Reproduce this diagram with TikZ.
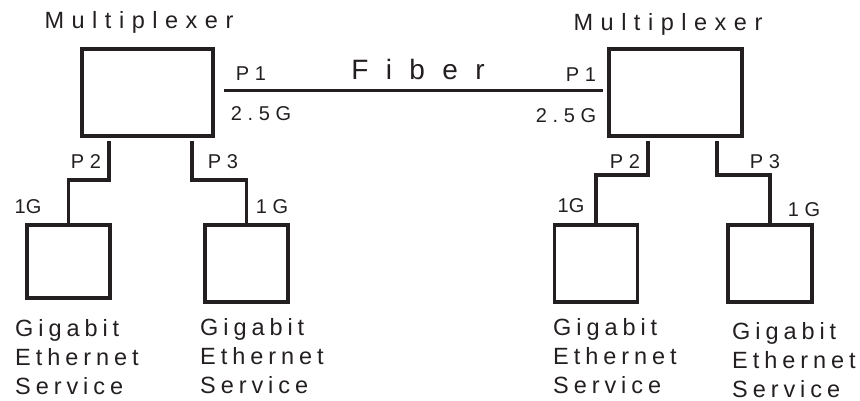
\documentclass[tikz,border=0pt]{standalone}
\usepackage{fontspec}
\setmainfont{Liberation Sans}
\newfontfamily\muxfont[LetterSpace=32]{Liberation Sans}
\newfontfamily\svcfont[LetterSpace=21]{Liberation Sans}
\newfontfamily\portfont[LetterSpace=28]{Liberation Sans}
\newfontfamily\fiberfont[LetterSpace=62]{Liberation Sans}
\usetikzlibrary{positioning, calc}
\definecolor{ink}{RGB}{35,31,32}

\begin{document}
\begin{tikzpicture}[
  x=1pt, y=-1pt, text=ink,
  muxbox/.style={draw=ink, line width=3.4pt, minimum width=131pt, minimum height=87pt, inner sep=0pt},
  gebox/.style={draw=ink, line width=3.4pt, minimum width=83pt, minimum height=77pt, inner sep=0pt},
  link/.style={draw=ink, line width=3.2pt},
  muxlbl/.style={font=\muxfont\fontsize{23.5}{27}\selectfont, anchor=base, inner sep=0pt},
  portlbl/.style={font=\portfont\fontsize{20}{24}\selectfont, anchor=base, inner sep=0pt},
  svclbl/.style={font=\svcfont\fontsize{23.5}{29}\selectfont, align=left, anchor=base west, inner sep=0pt}
]
\useasboundingbox (0,0) rectangle (860,401);

% multiplexers
\node[muxbox] (mux1) at (147.5,92.5) {};
\node[muxbox, minimum width=133pt] (mux2) at (675.5,92.5) {};
\node[muxlbl] (mux1lbl) at (139,29) {Multiplexer};
\node[muxlbl] (mux2lbl) at (668,31) {Multiplexer};

% --- fiber link ---
\draw[link] ($(mux1.east)+(9,-2)$) -- ($(mux2.west)+(-4,-2)$);
\node[font=\fiberfont\fontsize{28}{32}\selectfont, anchor=base, inner sep=0pt] (fiber) at (418,80) {Fiber};
\node[portlbl] (p1a) at (251,81) {P1};
\node[portlbl] (r1a) at (261,121) {2.5G};
\node[portlbl] (p1b) at (581,82) {P1};
\node[portlbl] (r1b) at (566,123) {2.5G};

% gigabit ethernet services
\node[gebox, minimum height=73pt] (ges1) at (68.5,261.5) {};
\node[gebox] (ges2) at (246.5,263.5) {};
\node[gebox] (ges3) at (596,263.5) {};
\node[gebox, minimum width=84pt] (ges4) at (770,263.5) {};

% --- tributary links ---
\coordinate (t2a) at (109,141);
\coordinate (t3a) at (192,141);
\coordinate (t2b) at (648,141);
\coordinate (t3b) at (717,141);
\draw[link] (t2a) -- ++(0,39) -| (ges1.north);
\draw[link] (t3a) -- ++(0,39) -| (ges2.north);
\draw[link] (t2b) -- ++(0,34) -| (ges3.north);
\draw[link] (t3b) -- ++(0,34) -| (ges4.north);

\node[portlbl] (p2a) at (86,168) {P2};
\node[portlbl] (p3a) at (223,168) {P3};
\node[portlbl] (p2b) at (625,168) {P2};
\node[portlbl] (p3b) at (765,168) {P3};
\node[portlbl, font=\fontsize{20}{24}\selectfont] (g1) at (28,213) {1G};
\node[portlbl] (g2) at (272,213) {1G};
\node[portlbl, font=\fontsize{20}{24}\selectfont] (g3) at (571,212) {1G};
\node[portlbl] (g4) at (804,216) {1G};

\node[svclbl] (s1) at (15,394) {Gigabit\\Ethernet\\Service};
\node[svclbl] (s2) at (200,393) {Gigabit\\Ethernet\\Service};
\node[svclbl] (s3) at (553,393) {Gigabit\\Ethernet\\Service};
\node[svclbl] (s4) at (732,397) {Gigabit\\Ethernet\\Service};

\end{tikzpicture}
\end{document}
